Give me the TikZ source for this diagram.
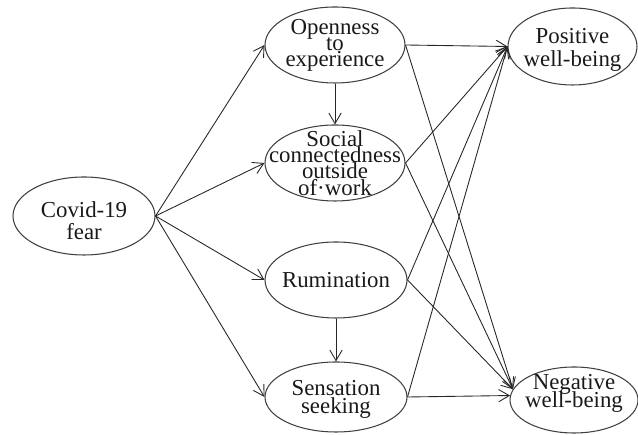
\documentclass[tikz,border=0pt]{standalone}
\usepackage{fontspec}
\setmainfont{Liberation Serif}
\usetikzlibrary{shapes.geometric,arrows.meta}
\lineskiplimit=-\maxdimen
\newcommand{\fsz}[1]{\fontsize{13}{#1}\selectfont}
\tikzset{
  ell/.style={draw=black!75,line width=0.6pt,ellipse,inner sep=0pt},
  lbl/.style={align=center,inner sep=0pt,text=black!90},
  link/.style={->,line width=0.5pt,draw=black!85},
  >={Straight Barb[length=6pt,width=7pt]}
}
\begin{document}
\begin{tikzpicture}
     		\useasboundingbox (0,0) rectangle (12.76,8.7);
     		\node[ell,minimum width=2.84cm,minimum height=1.56cm] (covid) at (1.68,4.38) {};
     		\node[ell,minimum width=2.8cm,minimum height=1.52cm] (open) at (6.7,7.8) {};
     		\node[ell,minimum width=2.8cm,minimum height=1.52cm] (social) at (6.7,5.44) {};
     		\node[ell,minimum width=2.84cm,minimum height=1.52cm] (rum) at (6.72,3.1) {};
     		\node[ell,minimum width=2.84cm,minimum height=1.4cm] (sens) at (6.72,0.76) {};
     		\node[ell,minimum width=2.58cm,minimum height=1.54cm] (pos) at (11.45,7.77) {};
     		\node[ell,minimum width=2.56cm,minimum height=1.32cm] (neg) at (11.48,0.7) {};

     		\node[lbl,font=\fsz{12.5}] (covidT) at ([yshift=-0.1cm]covid.center) {Covid-19\\fear};
     		\node[lbl,font=\fsz{9.1}] (openT) at (open.center) {Openness\\to\\experience};
     		\node[lbl,font=\fsz{9.3}] (socialT) at (social.center) {Social\\connectedness\\outside\\of·work};
     		\node[lbl,font=\fsz{13}] (rumT) at (rum.center) {Rumination};
     		\node[lbl,font=\fsz{10.2}] (sensT) at ([yshift=-0.05cm]sens.center) {Sensation\\seeking};
     		\node[lbl,font=\fsz{13.1}] (posT) at ([yshift=-0.06cm]pos.center) {Positive\\well-being};
     		\node[lbl,font=\fsz{10.2}] (negT) at ([yshift=0.14cm]neg.center) {Negative\\well-being};

     		\foreach \m in {open,social,rum,sens}{\draw[link] (covid.east) -- (\m.west);}
     		\foreach \m in {open,social,rum,sens}{\draw[link] (\m.east) -- (pos.west);}
     		\foreach \m in {open,social,rum}{\draw[link] (\m.east) -- (neg.170);}
     		\draw[link] (sens.east) -- (neg.176);
     		\draw[link] (open) -- (social);
     		\draw[link] (rum) -- (sens);
\end{tikzpicture}
\end{document}
